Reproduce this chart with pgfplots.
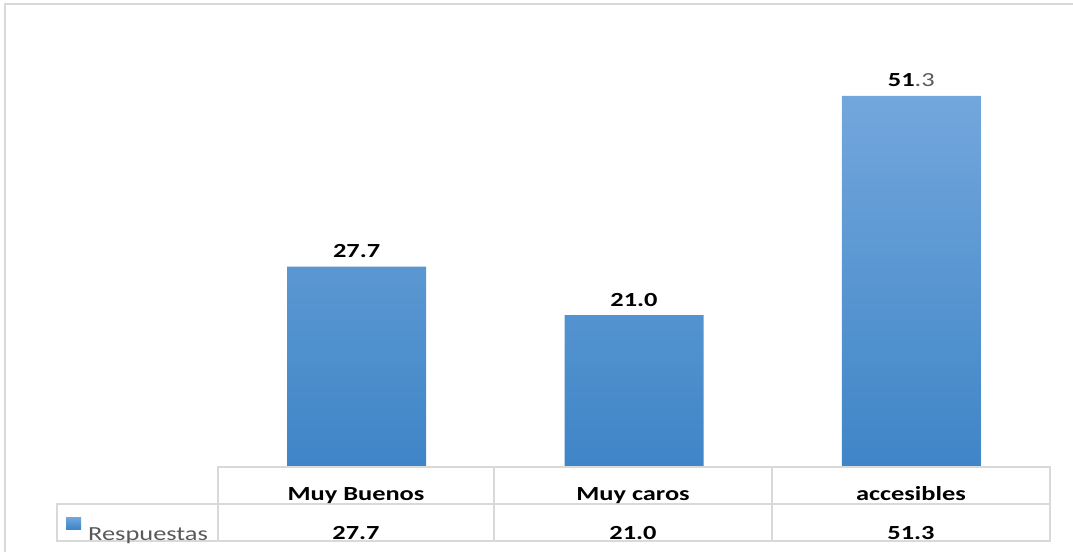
\documentclass[border=0pt]{standalone}
\usepackage{fontspec}
\setmainfont[FakeStretch=1.32]{Carlito}
\usepackage{pgfplots}
\pgfplotsset{compat=1.18}
\definecolor{gridgray}{HTML}{D9D9D9}
\definecolor{txtgray}{HTML}{595959}
\definecolor{bartop}{HTML}{72A7DC}
\definecolor{barbot}{HTML}{3F85C7}
\begin{document}
\fontsize{20}{24}\selectfont
\begin{tikzpicture}[x=1pt,y=1pt]
\path[use as bounding box] (0,0) rectangle (1073,552);
\draw[gridgray, line width=2pt] (5,0) -- (5,548) -- (1073,548);
\begin{axis}[
 at={(218pt,85pt)}, anchor=south west, scale only axis,
 width=832pt, height=434pt,
 xmin=-0.5, xmax=2.5, ymin=0, ymax=60,
 hide axis,
 ybar, bar width=139pt,
 nodes near coords, point meta=explicit symbolic,
 every node near coord/.append style={anchor=base, yshift=9pt, font=\bfseries, text=black},
]
\addplot[draw=none, top color=bartop, bottom color=barbot] coordinates {(0,27.7) [27.7] (1,21.0) [21.0] (2,51.3) [51\textmd{\textcolor{txtgray}{.3}}]};
\end{axis}
\draw[gridgray, line width=1.5pt] (218,11) rectangle (1050,85);
\draw[gridgray, line width=1.5pt] (218,48) -- (1050,48);
\draw[gridgray, line width=1.5pt] (494,11) -- (494,85);
\draw[gridgray, line width=1.5pt] (772,11) -- (772,85);
\draw[gridgray, line width=1.5pt] (57,11) rectangle (218,48);
\fill[top color=bartop, bottom color=barbot] (66,23) rectangle (81,35);
\node[anchor=base west, inner sep=0pt, text=txtgray] at (88,12) {Respuestas};
\foreach \x/\n/\v in {356/Muy Buenos/27.7, 633/Muy caros/21.0, 911/accesibles/51.3} {
 \node[anchor=base, font=\bfseries] at (\x,52) {\n};
 \node[anchor=base, font=\bfseries] at (\x,13) {\v};
}
\end{tikzpicture}
\end{document}
